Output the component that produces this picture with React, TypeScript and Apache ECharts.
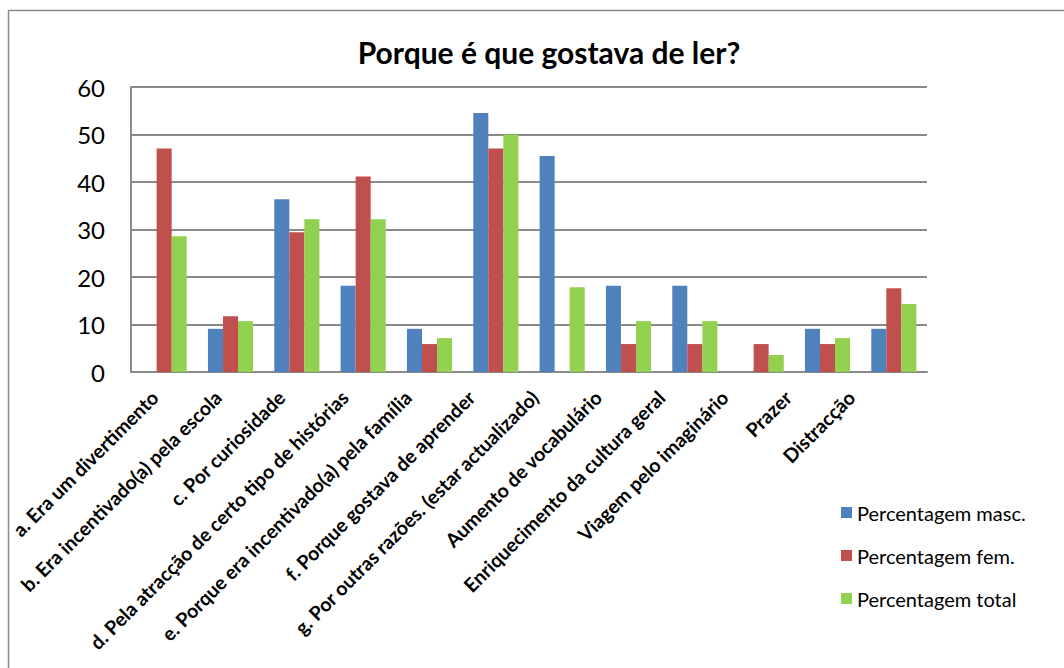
import React, { useEffect, useRef } from "react";
import * as echarts from "echarts";

const categories = [
  "a. Era um divertimento",
  "b. Era incentivado(a) pela escola",
  "c. Por curiosidade",
  "d. Pela atracção de certo tipo de histórias",
  "e. Porque era incentivado(a) pela família",
  "f. Porque gostava de aprender",
  "g. Por outras razões. (estar actualizado)",
  "Aumento de vocabulário",
  "Enriquecimento da cultura geral",
  "Viagem pelo imaginário",
  "Prazer",
  "Distracção",
];

const seriesNames = ["Percentagem masc.", "Percentagem fem.", "Percentagem total"];
const masc = [0, 9.09, 36.36, 18.18, 9.09, 54.55, 45.45, 18.18, 18.18, 0, 9.09, 9.09];
const fem = [47.06, 11.76, 29.41, 41.18, 5.88, 47.06, 0, 5.88, 5.88, 5.88, 5.88, 17.65];
const total = [28.57, 10.71, 32.14, 32.14, 7.14, 50, 17.86, 10.71, 10.71, 3.57, 7.14, 14.29];
const colors = ["#4F81BD", "#C0504D", "#92D050"];

const titleText = "Porque é que gostava de ler?";
const FONT = "Lato, 'Open Sans', sans-serif";

export default function App() {
  const ref = useRef<HTMLDivElement>(null);
  useEffect(() => {
    if (!ref.current) return;
    const chart = echarts.init(ref.current, undefined, { renderer: "svg" });
    const values = [masc, fem, total];
    chart.setOption({
      animation: false,
      backgroundColor: "#ffffff",
      textStyle: { fontFamily: FONT },
      graphic: [
        {
          type: "rect",
          shape: { x: 8.5, y: 10.5, width: 1200, height: 800 },
          style: { fill: "none", stroke: "#8a8a8a", lineWidth: 1.5 },
          silent: true,
        },
        {
          type: "text",
          x: 549,
          y: 52,
          style: {
            text: titleText,
            textAlign: "center",
            textVerticalAlign: "middle",
            fontFamily: FONT,
            fontWeight: "bold",
            fontSize: 30,
            fill: "#000",
          },
        },
      ],
      legend: {
        orient: "vertical",
        left: 836,
        top: 497,
        itemWidth: 11,
        itemHeight: 11,
        itemGap: 22,
        icon: "rect",
        textStyle: { fontFamily: FONT, fontSize: 20, color: "#000", lineHeight: 21 },
        data: seriesNames,
      },
      grid: [
        { left: 131, right: 137, top: 87, bottom: 296, containLabel: false },
        { left: 123, width: 760, top: 87, bottom: 296, containLabel: false },
      ],
      xAxis: [
        {
          type: "category",
          gridIndex: 0,
          data: categories,
          axisLine: { lineStyle: { color: "#8a8a8a", width: 2 } },
          axisTick: { show: false },
          axisLabel: { show: false },
        },
        {
          type: "category",
          gridIndex: 1,
          data: categories,
          axisLine: { show: false },
          axisTick: { show: false },
          axisLabel: {
            interval: 0,
            rotate: 45,
            margin: 22,
            fontFamily: FONT,
            fontWeight: "bold",
            fontSize: 19.5,
            color: "#000",
          },
        },
      ],
      yAxis: [
        {
          type: "value",
          gridIndex: 0,
          min: 0,
          max: 60,
          interval: 10,
          axisLine: { show: true, lineStyle: { color: "#8a8a8a", width: 2 } },
          axisTick: { show: false },
          axisLabel: { margin: 26, fontFamily: FONT, fontSize: 24, color: "#000" },
          splitLine: { lineStyle: { color: "#8a8a8a", width: 2 } },
        },
        {
          type: "value",
          gridIndex: 1,
          min: 0,
          max: 60,
          show: false,
        },
      ],
      series: seriesNames.map((name, i) => ({
        name,
        type: "bar",
        xAxisIndex: 0,
        yAxisIndex: 0,
        data: values[i],
        barGap: "0%",
        barCategoryGap: "32%",
        itemStyle: { color: colors[i] },
      })),
    });
    return () => chart.dispose();
  }, []);
  return (
    <div
      ref={ref}
      style={{ position: "fixed", left: 0, top: 0, width: 1064, height: 668 }}
    />
  );
}
